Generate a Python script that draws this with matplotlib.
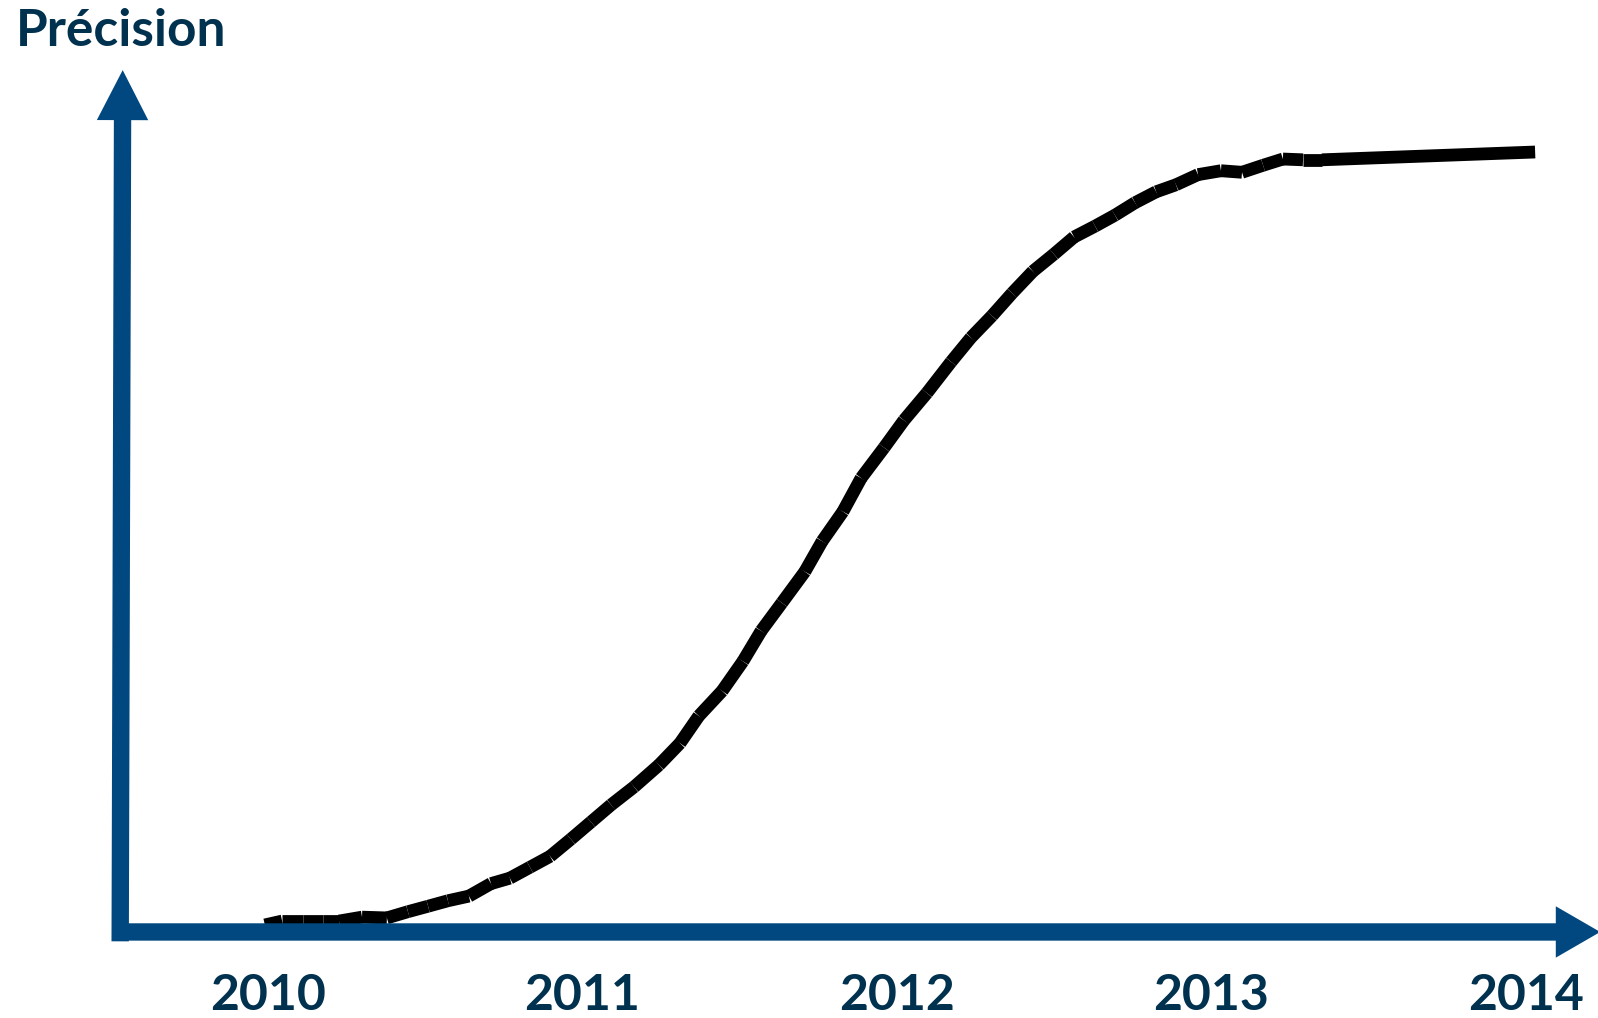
import numpy as np
import matplotlib
matplotlib.use('Agg')
import matplotlib.pyplot as plt
from matplotlib.collections import LineCollection
from matplotlib.patches import FancyArrowPatch

# Données (année, précision relative)
annees = [2009.990, 2010.045, 2010.111, 2010.175, 2010.226, 2010.299, 2010.378,
          2010.445, 2010.509, 2010.572, 2010.639, 2010.709, 2010.769, 2010.833,
          2010.897, 2010.963, 2011.027, 2011.091, 2011.164, 2011.243, 2011.310,
          2011.370, 2011.444, 2011.510, 2011.568, 2011.634, 2011.707, 2011.762,
          2011.828, 2011.886, 2011.959, 2012.022, 2012.095, 2012.172, 2012.235,
          2012.302, 2012.366, 2012.432, 2012.499, 2012.563, 2012.630, 2012.693,
          2012.757, 2012.824, 2012.887, 2012.957, 2013.030, 2013.097, 2013.164,
          2013.227, 2013.291, 2013.351, 2014.029]
precision = [0.9, 1.4, 1.4, 1.4, 1.4, 1.9, 1.8,
             2.6, 3.3, 4.0, 4.6, 6.2, 6.9, 8.3,
             9.7, 11.9, 14.1, 16.3, 18.6, 21.4, 24.2,
             27.7, 30.9, 34.7, 38.6, 42.2, 46.2, 50.1,
             53.9, 58.2, 62.1, 65.6, 69.1, 73.1, 76.2,
             79.0, 81.9, 84.7, 86.9, 89.1, 90.5, 91.9,
             93.5, 94.9, 95.8, 97.1, 97.6, 97.4, 98.3,
             99.1, 99.0, 99.0, 100.0]
etiquettes = ['2010', '2011', '2012', '2013', '2014']
positions_ticks = [2010, 2011, 2012, 2013, 2014]

bleu = '#00487f'
texte = '#00324f'
police = ['Lato', 'DejaVu Sans']

fig = plt.figure(figsize=(15.98, 10.18), dpi=100)
ax = fig.add_axes([0, 0, 1, 1])
ax.set_xlim(2009.1479, 2014.2289)
ax.set_ylim(-11.03, 119.49)
ax.axis('off')

# courbe en segments (bouts droits)
pts = np.column_stack([annees, precision])
segs = np.stack([pts[:-1], pts[1:]], axis=1)
lc = LineCollection(segs, colors='black', linewidths=9.2, capstyle='butt', zorder=2)
ax.add_collection(lc)

# axes fléchés
style_y = 'simple,head_length=36,head_width=37,tail_width=12.5'
ax.add_patch(FancyArrowPatch((2009.530, -1.2), (2009.538, 110.5), arrowstyle=style_y,
                             mutation_scale=1, color=bleu, lw=0, shrinkA=0, shrinkB=0, zorder=3))
style_x = 'simple,head_length=32,head_width=37,tail_width=12.5'
ax.add_patch(FancyArrowPatch((2009.505, 0), (2014.236, 0), arrowstyle=style_x,
                             mutation_scale=1, color=bleu, lw=0, shrinkA=0, shrinkB=0, zorder=3))

for x, lab in zip(positions_ticks, etiquettes):
    ax.text(x, -8.2, lab, ha='center', va='center', fontsize=36, fontweight='bold',
            color=texte, family=police)

fig.text(16 / 1598, 1 - 31 / 1018, 'Précision', ha='left', va='center', fontsize=37,
         fontweight='bold', color=texte, family=police)

fig.savefig('out.png', dpi=100)
